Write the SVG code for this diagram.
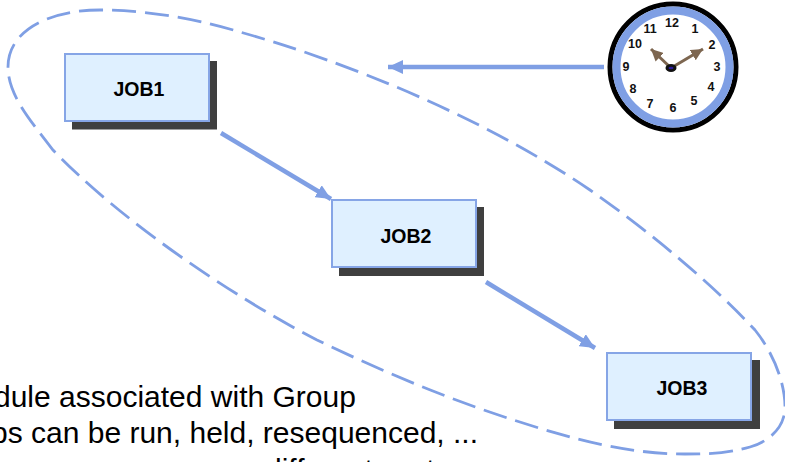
<svg xmlns="http://www.w3.org/2000/svg" width="785" height="462" viewBox="0 0 785 462">
<style>
.j{fill:#dff0ff;stroke:#86a5e6;stroke-width:2}
.s{fill:#3f3f3f}
.l{font:bold 19.5px "Liberation Sans",Arial,sans-serif;text-anchor:middle;fill:#000}
.n{font:bold 12.5px "Liberation Sans",Arial,sans-serif;text-anchor:middle;fill:#111}
.t{font:30px "Liberation Sans",Arial,sans-serif;fill:#000}
.c{stroke:#7f9fe4;stroke-width:4.5;fill:none}
</style>
<defs>
<marker id="a" markerUnits="userSpaceOnUse" markerWidth="16" markerHeight="14" refX="15" refY="7" orient="auto"><path d="M0 0L15 7L0 14Z" fill="#7f9fe4"/></marker>
<marker id="h" markerUnits="userSpaceOnUse" markerWidth="13" markerHeight="12" refX="12" refY="6" orient="auto"><path d="M0 0L12 6L0 12Z" fill="#7d6650"/></marker>
</defs>
<g id="connectors">
<path d="M8 67C8 30 50 10 100 10C150 10 200 20 240 32C340 60 480 115 590 190C650 232 710 282 755 330C775 355 785 385 785 407C785 430 765 443 750 447C725 454 705 454 685 454C640 454 600 445 570 437C480 412 400 380 317 340C230 295 120 220 53 150C30 120 8 95 8 67Z" fill="none" stroke="#7f9fe4" stroke-width="2.8" stroke-dasharray="24 9"/>
<line class="c" x1="221" y1="133" x2="331" y2="199" marker-end="url(#a)"/>
<line class="c" x1="486" y1="282" x2="595" y2="348" marker-end="url(#a)"/>
<line class="c" x1="604" y1="67" x2="388" y2="67" marker-end="url(#a)"/>
</g>
<g id="job1"><rect class="s" x="72" y="61" width="145" height="68.500"/><rect class="j" x="65" y="54" width="144" height="67"/><text class="l" x="139" y="96">JOB1</text></g>
<g id="job2"><rect class="s" x="339" y="207" width="145" height="69"/><rect class="j" x="332" y="200" width="144" height="67"/><text class="l" x="406" y="243">JOB2</text></g>
<g id="job3"><rect class="s" x="614" y="360" width="146" height="69"/><rect class="j" x="607" y="353" width="144" height="67"/><text class="l" x="682" y="395">JOB3</text></g>
<g id="clock">
<circle cx="673" cy="67" r="63" fill="#fff" stroke="#000" stroke-width="5"/>
<circle cx="673" cy="67" r="56.500" fill="none" stroke="#7f9fe4" stroke-width="8"/>
<text class="n"><tspan x="672" y="27">12</tspan><tspan x="695" y="33">1</tspan><tspan x="712" y="49">2</tspan><tspan x="717" y="71">3</tspan><tspan x="711" y="91">4</tspan><tspan x="694" y="105">5</tspan><tspan x="673" y="112">6</tspan><tspan x="650" y="108">7</tspan><tspan x="633" y="93">8</tspan><tspan x="626" y="71">9</tspan><tspan x="635" y="48">10</tspan><tspan x="650" y="33">11</tspan></text>
<line x1="671" y1="68" x2="651" y2="49" stroke="#7d6650" stroke-width="3" marker-end="url(#h)"/>
<line x1="671" y1="68" x2="703" y2="49" stroke="#7d6650" stroke-width="3" marker-end="url(#h)"/>
<ellipse cx="671" cy="68" rx="5.500" ry="4" fill="#111"/>
<ellipse cx="671" cy="68" rx="2.500" ry="1.200" fill="#2a1a9a"/>
</g>
<g id="caption">
<text class="t" x="-6" y="407">dule associated with Group</text>
<text class="t" x="-9" y="443">bs can be run, held, resequenced, ...</text>
<text class="t" x="265" y="479.500">different system</text>
</g>
</svg>
